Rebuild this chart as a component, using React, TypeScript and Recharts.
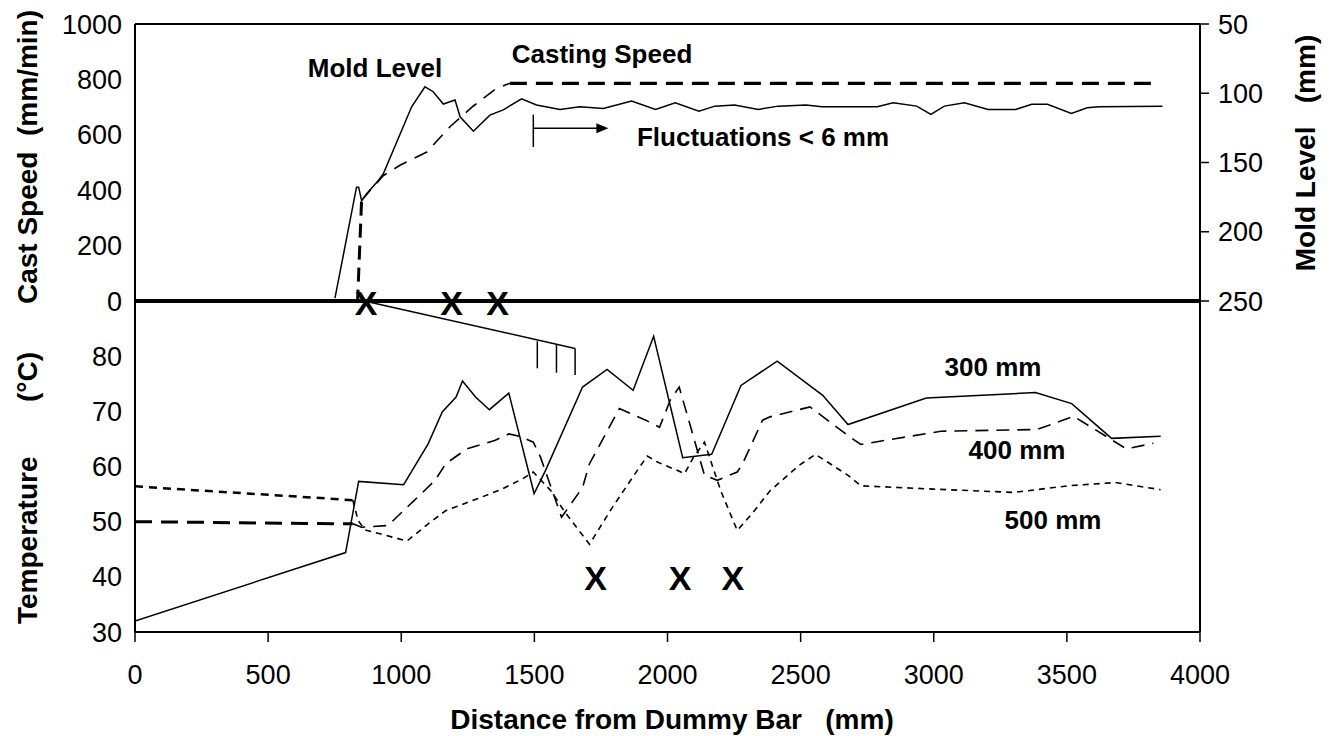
import React from 'react';
import { ComposedChart, Line, Scatter, XAxis, YAxis, ReferenceLine } from 'recharts';

const FONT = "'Liberation Sans', Arial, Helvetica, sans-serif";

// axis ticks
const distanceTicks = [0, 500, 1000, 1500, 2000, 2500, 3000, 3500, 4000];
const speedTicks = [0, 200, 400, 600, 800, 1000];
const levelTicks = [50, 100, 150, 200, 250];
const tempTicks = [30, 40, 50, 60, 70, 80];

// casting speed (mm/min) vs distance (mm)
const speedX = [0, 836, 851, 883, 933, 995, 1096, 1183, 1271, 1358, 1408, 3827];
const speedY = [0, 0, 363, 399, 453, 490, 538, 629, 704, 768, 786, 786];

// mold level (mm, right axis)
const moldX = [751, 832, 840, 851, 870, 914, 933, 1039, 1089, 1120, 1158, 1202, 1221, 1271, 1333, 1383, 1452, 1508, 1596, 1671, 1759, 1865, 1955, 2029, 2118, 2178, 2252, 2341, 2416, 2520, 2580, 2788, 2847, 2936, 2989, 3040, 3115, 3204, 3308, 3368, 3427, 3517, 3576, 3621, 3859];
const moldY = [248, 167.8, 167.8, 177.5, 172.6, 163, 158, 109.8, 95.3, 98.9, 107.8, 104.9, 117, 127.4, 115.8, 112, 104, 108.5, 111.7, 109.8, 111, 105.6, 111.7, 106.9, 112.9, 109.3, 108.5, 111.7, 109.3, 108.5, 109.8, 109.8, 106.9, 109.3, 115.3, 109.3, 106.9, 111.7, 111.7, 108, 108, 114.6, 110.5, 109.8, 109.3];

// temperatures (°C)
const t300X = [0, 791, 840, 1009, 1101, 1154, 1206, 1230, 1279, 1331, 1404, 1499, 1542, 1681, 1773, 1871, 1948, 2057, 2166, 2276, 2412, 2583, 2678, 2972, 3382, 3518, 3668, 3852];
const t300Y = [32.0, 44.4, 57.3, 56.7, 64.1, 69.9, 72.6, 75.5, 72.6, 70.3, 73.3, 55.1, 59.3, 74.4, 77.6, 73.8, 83.6, 61.6, 62.2, 74.7, 79.1, 72.9, 67.6, 72.4, 73.4, 71.4, 65.1, 65.5];

const t400X = [0, 818, 851, 950, 1048, 1127, 1167, 1246, 1351, 1404, 1443, 1496, 1523, 1602, 1681, 1707, 1819, 1918, 1970, 2010, 2044, 2139, 2187, 2262, 2282, 2357, 2385, 2535, 2678, 2726, 3027, 3388, 3525, 3723, 3825];
const t400Y = [50, 49.6, 49.0, 49.3, 53.8, 57.5, 60.5, 63.2, 64.7, 65.9, 65.5, 64.4, 61.7, 50.8, 56.2, 60.5, 70.5, 68.4, 67.1, 72.0, 74.4, 58.4, 57.5, 59, 60.5, 68.4, 69.0, 70.8, 65.6, 64.0, 66.4, 66.7, 69.1, 63.2, 64.2];

const t500X = [0, 818, 838, 864, 1022, 1101, 1167, 1299, 1378, 1457, 1496, 1562, 1615, 1707, 1793, 1891, 1924, 1962, 2036, 2064, 2098, 2139, 2200, 2262, 2317, 2385, 2494, 2556, 2678, 2726, 2999, 3300, 3504, 3682, 3852];
const t500Y = [56.4, 53.9, 50.2, 48.5, 46.5, 49.6, 52, 54.4, 55.9, 57.8, 59, 55.6, 51.7, 45.9, 52.6, 59.6, 61.9, 60.8, 59.3, 58.7, 61.7, 64.4, 55.6, 48.4, 51.4, 55.6, 60.2, 62.2, 58.4, 56.5, 55.9, 55.3, 56.5, 57.1, 55.8];

// "X" markers
const crossTopX = [868, 1189, 1362];
const crossTopY = [0, 0, 0];
const crossLowX = [1730, 2047, 2245];
const crossLowY = [40, 40, 40];

// annotations (data units)
const arrowStem = [{ x: 1496, y: 673 }, { x: 1496, y: 556 }];
const arrowShaft = [{ x: 1496, y: 624 }, { x: 1778, y: 624 }];
const combLines = [
  [{ x: 870, y: 89.9 }, { x: 1653, y: 81.4 }],
  [{ x: 1511, y: 82.7 }, { x: 1511, y: 77.8 }],
  [{ x: 1583, y: 82.1 }, { x: 1583, y: 77.0 }],
  [{ x: 1653, y: 81.4 }, { x: 1653, y: 76.6 }],
];

const zip = (xs: number[], ys: number[]) => xs.map((x, i) => ({ x, y: ys[i] }));

const tickStyle = { fill: '#000', fontSize: 27, fontFamily: FONT };
const axisStyle = { stroke: '#000', strokeWidth: 2 };

const XMark = (props: any) => (
  <text x={props.cx} y={props.cy} dy={13.5} textAnchor="middle" fontSize={34} fontWeight="bold" fontFamily={FONT} fill="#000">
    X
  </text>
);

const ArrowShape = (props: any) => {
  const { x1, y1, x2, y2 } = props;
  return (
    <g>
      <line x1={x1} y1={y1} x2={x2 - 8} y2={y2} stroke="#000" strokeWidth={1.5} />
      <polygon points={`${x2},${y2} ${x2 - 12},${y2 - 5} ${x2 - 12},${y2 + 5}`} fill="#000" />
    </g>
  );
};

const TextAt: React.FC<{ x: number; y: number; size?: number; rotate?: boolean; children: React.ReactNode }> = ({ x, y, size = 26, rotate, children }) => (
  <div
    style={{
      position: 'absolute',
      left: x,
      top: y,
      transform: `translate(-50%, -50%)${rotate ? ' rotate(-90deg)' : ''}`,
      fontFamily: FONT,
      fontSize: size,
      fontWeight: 'bold',
      lineHeight: 1,
      whiteSpace: 'pre',
      color: '#000',
    }}
  >
    {children}
  </div>
);

const App: React.FC = () => {
  const speedData = zip(speedX, speedY);
  // the trace is drawn heavier on the vertical step and the plateau than on the ramp
  const speedStep = speedData.slice(0, 3);
  const speedRamp = speedData.slice(2, 11);
  const speedFlat = speedData.slice(10);
  const moldData = zip(moldX, moldY);
  const d300 = zip(t300X, t300Y);
  const d400 = zip(t400X, t400Y);
  const d500 = zip(t500X, t500Y);

  const dashed = (data: any[], width: number, dash: string, key: string, axis: string) => (
    <Line key={key} yAxisId={axis} data={data} dataKey="y" type="linear" stroke="#000" strokeWidth={width} strokeDasharray={dash} dot={false} isAnimationActive={false} />
  );

  return (
    <div style={{ position: 'absolute', left: 0, top: 0, width: 1330, height: 736, background: '#fff' }}>
      {/* upper panel: cast speed + mold level */}
      <div style={{ position: 'absolute', left: 0, top: 0 }}>
        <ComposedChart width={1330} height={340} margin={{ top: 24, right: 0, bottom: 39, left: 0 }}>
          <XAxis type="number" dataKey="x" domain={[0, 4000]} ticks={distanceTicks} hide allowDataOverflow />
          <YAxis
            yAxisId="speed"
            domain={[0, 1000]}
            ticks={speedTicks}
            width={135}
            tickLine={false}
            tickSize={6}
            tickMargin={7}
            axisLine={axisStyle}
            tick={tickStyle}
            interval={0}
          />
          <YAxis
            yAxisId="level"
            orientation="right"
            reversed
            domain={[50, 250]}
            ticks={levelTicks}
            width={130}
            tickSize={9}
            tickMargin={9}
            tickLine={{ stroke: '#000', strokeWidth: 1.5 }}
            axisLine={axisStyle}
            tick={tickStyle}
            interval={0}
          />
          <ReferenceLine yAxisId="speed" y={1000} stroke="#000" strokeWidth={2} />
          <ReferenceLine yAxisId="speed" y={0} stroke="#000" strokeWidth={4} />
          <ReferenceLine yAxisId="speed" segment={arrowStem} stroke="#000" strokeWidth={1.5} />
          <ReferenceLine yAxisId="speed" segment={arrowShaft} shape={ArrowShape} />
          <Line yAxisId="level" data={moldData} dataKey="y" type="linear" stroke="#000" strokeWidth={1.5} dot={false} isAnimationActive={false} />
          {dashed(speedStep, 3, '14 8', 'sp-step', 'speed')}
          {dashed(speedRamp, 1.6, '14 9', 'sp-ramp', 'speed')}
          {dashed(speedFlat, 3.3, '17 9', 'sp-flat', 'speed')}
          <Scatter yAxisId="speed" data={zip(crossTopX, crossTopY)} dataKey="y" shape={XMark} isAnimationActive={false} />
        </ComposedChart>
      </div>

      {/* lower panel: temperatures */}
      <div style={{ position: 'absolute', left: 0, top: 0 }}>
        <ComposedChart width={1330} height={736} margin={{ top: 301, right: 0, bottom: 44, left: 0 }}>
          <XAxis
            type="number"
            dataKey="x"
            domain={[0, 4000]}
            ticks={distanceTicks}
            height={60}
            tickSize={10}
            tickMargin={23}
            tickLine={{ stroke: '#000', strokeWidth: 1.5 }}
            axisLine={axisStyle}
            tick={tickStyle}
            interval={0}
            allowDataOverflow
          />
          <YAxis
            yAxisId="temp"
            domain={[30, 90]}
            ticks={tempTicks}
            width={135}
            tickLine={false}
            tickSize={6}
            tickMargin={7}
            axisLine={axisStyle}
            tick={tickStyle}
            interval={0}
          />
          <YAxis yAxisId="edge" orientation="right" width={130} tick={false} tickLine={false} axisLine={axisStyle} />
          {combLines.map((seg, i) => (
            <ReferenceLine key={`comb-${i}`} yAxisId="temp" segment={seg} stroke="#000" strokeWidth={1.5} />
          ))}
          <Line yAxisId="temp" data={d300} dataKey="y" type="linear" stroke="#000" strokeWidth={1.5} dot={false} isAnimationActive={false} />
          {dashed(d400.slice(0, 2), 3, '17 9', 't400-a', 'temp')}
          {dashed(d400.slice(1), 1.6, '13 8', 't400-b', 'temp')}
          {dashed(d500.slice(0, 2), 2.5, '8 6', 't500-a', 'temp')}
          {dashed(d500.slice(1), 1.6, '6 5', 't500-b', 'temp')}
          <Scatter yAxisId="temp" data={zip(crossLowX, crossLowY)} dataKey="y" shape={XMark} isAnimationActive={false} />
        </ComposedChart>
      </div>

      {/* axis titles */}
      <TextAt x={28} y={157} size={28} rotate>{'Cast Speed  (mm/min)'}</TextAt>
      <TextAt x={28} y={488} size={28} rotate>{'Temperature       (°C)'}</TextAt>
      <TextAt x={1306} y={153} size={28} rotate>{'Mold Level   (mm)'}</TextAt>
      <TextAt x={672} y={720} size={28}>{'Distance from Dummy Bar   (mm)'}</TextAt>

      {/* in-plot labels */}
      <TextAt x={375} y={68}>Mold Level</TextAt>
      <TextAt x={602} y={54}>Casting Speed</TextAt>
      <TextAt x={763} y={137}>{'Fluctuations < 6 mm'}</TextAt>
      <TextAt x={993} y={367}>300 mm</TextAt>
      <TextAt x={1017} y={450}>400 mm</TextAt>
      <TextAt x={1053} y={520}>500 mm</TextAt>
    </div>
  );
};

export default App;
